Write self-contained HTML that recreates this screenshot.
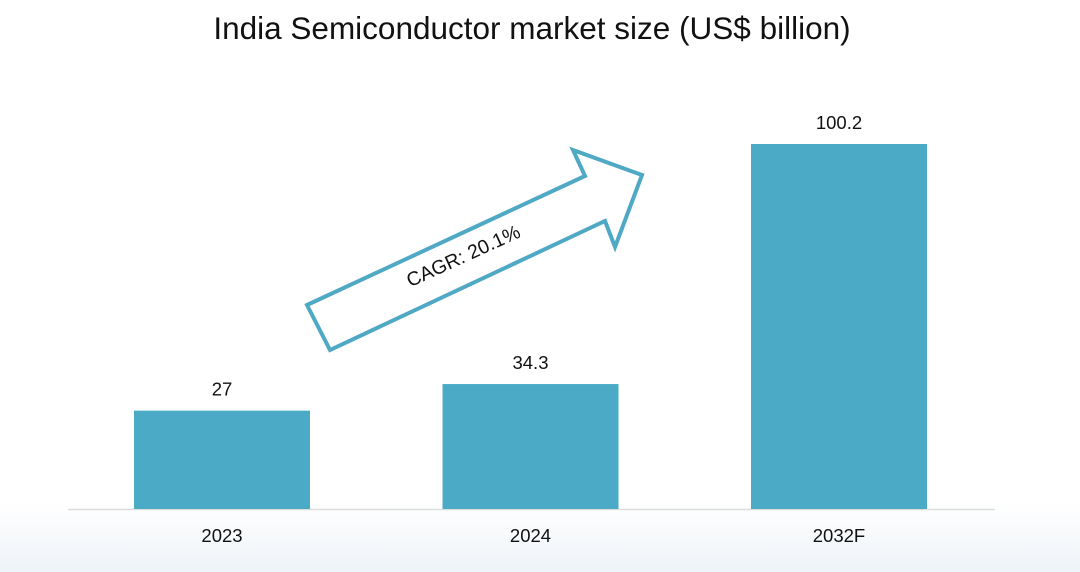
<!DOCTYPE html>
<html><head><meta charset="utf-8"><style>
html,body{margin:0;padding:0;background:#fff;}
svg{display:block;font-family:"Liberation Sans",Arial,sans-serif;}
</style></head><body>
<svg width="1080" height="572" viewBox="0 0 1080 572">
<defs><linearGradient id="bg" x1="0" y1="0" x2="0" y2="1">
<stop offset="0" stop-color="#ffffff"/><stop offset="0.88" stop-color="#ffffff"/><stop offset="1" stop-color="#eef3f8"/></linearGradient></defs>
<rect width="1080" height="572" fill="url(#bg)"/>
<text x="532" y="39" text-anchor="middle" font-size="31.5" fill="#111">India Semiconductor market size (US$ billion)</text>
<line x1="68" y1="509.5" x2="995" y2="509.5" stroke="#dcdcdc" stroke-width="1.5"/>
<g id="bars"></g>
<polygon points="307,305 585,176 573,150 642,175 615,247 605,221 330,350" fill="none" stroke="#4fa9c4" stroke-width="4" stroke-linejoin="miter"/>
<text x="0" y="0" transform="translate(466,262) rotate(-24.5)" text-anchor="middle" font-size="19.5" fill="#111">CAGR: 20.1%</text>
</svg>
<script>
const categories = ["2023", "2024", "2032F"];
const values = [27, 34.3, 100.2];
const valueLabels = ["27", "34.3", "100.2"];
const g = document.getElementById('bars');
const ns = 'http://www.w3.org/2000/svg';
const baseY = 509, pxPerUnit = 365 / 100.2;
const y = v => baseY - v * pxPerUnit;
const xCenter = i => 222 + i * 308.5;
const bw = 176;
categories.forEach((c, i) => {
  const r = document.createElementNS(ns, 'rect');
  r.setAttribute('x', xCenter(i) - bw / 2);
  r.setAttribute('y', y(values[i]));
  r.setAttribute('width', bw);
  r.setAttribute('height', baseY - y(values[i]));
  r.setAttribute('fill', '#4babc6');
  
  
  g.appendChild(r);
  const t = document.createElementNS(ns, 'text');
  t.setAttribute('x', xCenter(i));
  t.setAttribute('y', y(values[i]) - 15);
  t.setAttribute('text-anchor', 'middle');
  t.setAttribute('font-size', '18.5');
  t.setAttribute('fill', '#111');
  t.textContent = valueLabels[i];
  
  
  g.appendChild(t);
  const xl = document.createElementNS(ns, 'text');
  xl.setAttribute('x', xCenter(i));
  xl.setAttribute('y', 542);
  xl.setAttribute('text-anchor', 'middle');
  xl.setAttribute('font-size', '18.5');
  xl.setAttribute('fill', '#111');
  xl.textContent = c;
  
  
  g.appendChild(xl);
});
</script>
</body></html>
